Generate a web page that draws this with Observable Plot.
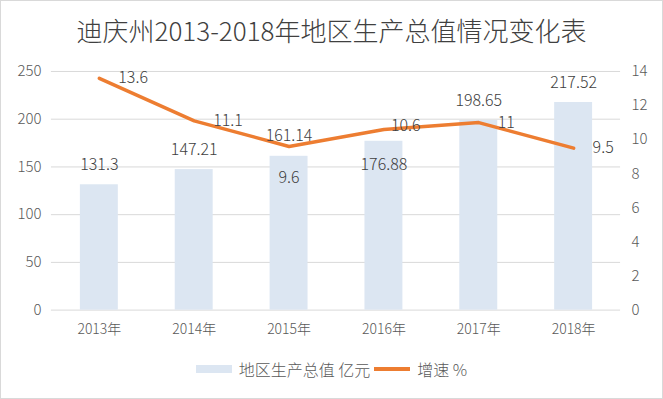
<!DOCTYPE html>
<html><head><meta charset="utf-8">
<script src="https://cdn.jsdelivr.net/npm/d3@7"></script>
<script src="https://cdn.jsdelivr.net/npm/@observablehq/plot@0.6"></script>
<style>
body{margin:0;background:#fff;font-family:"Noto Sans CJK SC","Noto Sans",sans-serif;}
#wrap{position:relative;width:663px;height:399px;box-sizing:border-box;border:1px solid #d9d9d9;background:#fff;overflow:hidden;}
#title{position:absolute;left:0;top:11px;width:661px;text-align:center;font-size:26px;font-weight:300;color:#404040;line-height:36px;}
#chart{position:absolute;left:-1px;top:54px;}
#legend{position:absolute;left:0;top:357px;width:661px;display:flex;justify-content:center;align-items:center;font-size:16px;font-weight:300;color:#595959;line-height:22px;}
.sw{display:inline-block;width:36px;margin-right:7px;}
svg text{font-weight:300;}
</style></head>
<body><div id="wrap"><div id="title">迪庆州2013-2018年地区生产总值情况变化表</div><div id="chart"></div>
<div id="legend"><span class="sw" style="height:8px;background:#dce6f2"></span><span>地区生产总值 亿元</span><span class="sw" style="height:4px;background:#ed7d31;margin-left:4px"></span><span>增速 %</span></div></div>
<script>
const years = ["2013年","2014年","2015年","2016年","2017年","2018年"];
const gdp = [131.3, 147.21, 161.14, 176.88, 198.65, 217.52];
const growth = [13.6, 11.1, 9.6, 10.6, 11, 9.5];
const leftTicks = [0, 50, 100, 150, 200, 250];
const rightTicks = [0, 2, 4, 6, 8, 10, 12, 14];

const LMAX = 250, RMAX = 14;
const toLeft = v => v * LMAX / RMAX;
const data = years.map((y, i) => ({year: y, gdp: gdp[i], growth: growth[i], g2: toLeft(growth[i])}));

// label placement tweaks (Excel auto-placement)
const barLabelDy = {"2016年": 24};
const lineLabel = {"2015年": {dx: 0, dy: 31, anchor: "middle"}, "2016年": {dx: 7, dy: -4, anchor: "start"}};

const font = "Noto Sans CJK SC";
const chart = Plot.plot({
  width: 663, height: 290,
  marginLeft: 51, marginRight: 42, marginTop: 16, marginBottom: 35,
  style: {fontFamily: font, fontSize: "14px", color: "#595959", background: "transparent"},
  x: {domain: years, paddingInner: 0.6, paddingOuter: 0.3, label: null},
  y: {domain: [0, LMAX], label: null},
  marks: [
    Plot.gridY(leftTicks, {stroke: "#d9d9d9", strokeOpacity: 1}),
    Plot.barY(data, {x: "year", y: "gdp", fill: "#dce6f2"}),
    Plot.axisY(leftTicks, {anchor: "left", tickSize: 0, tickPadding: 10, label: null, fontSize: 15, fill: "#595959"}),
    Plot.axisY(rightTicks.map(toLeft), {anchor: "right", tickSize: 0, tickPadding: 11, label: null, tickFormat: v => String(Math.round(v * RMAX / LMAX)), fontSize: 15, fill: "#595959"}),
    Plot.axisX({tickSize: 0, tickPadding: 14, label: null, fontSize: 14, fill: "#595959"}),
    Plot.line(data, {x: "year", y: "g2", stroke: "#ed7d31", strokeWidth: 3.5, strokeLinejoin: "round", strokeLinecap: "round"}),
    ...data.map(d => Plot.text([d], {x: "year", y: "gdp", text: d => String(d.gdp), dy: barLabelDy[d.year] ?? -20, fill: "#404040", fontSize: 16})),
    ...data.map(d => {
      const p = lineLabel[d.year] ?? {dx: 19, dy: 0, anchor: "start"};
      return Plot.text([d], {x: "year", y: "g2", text: d => String(d.growth), dx: p.dx, dy: p.dy, textAnchor: p.anchor, fill: "#404040", fontSize: 16});
    })
  ]
});
document.getElementById("chart").appendChild(chart);
</script></body></html>
